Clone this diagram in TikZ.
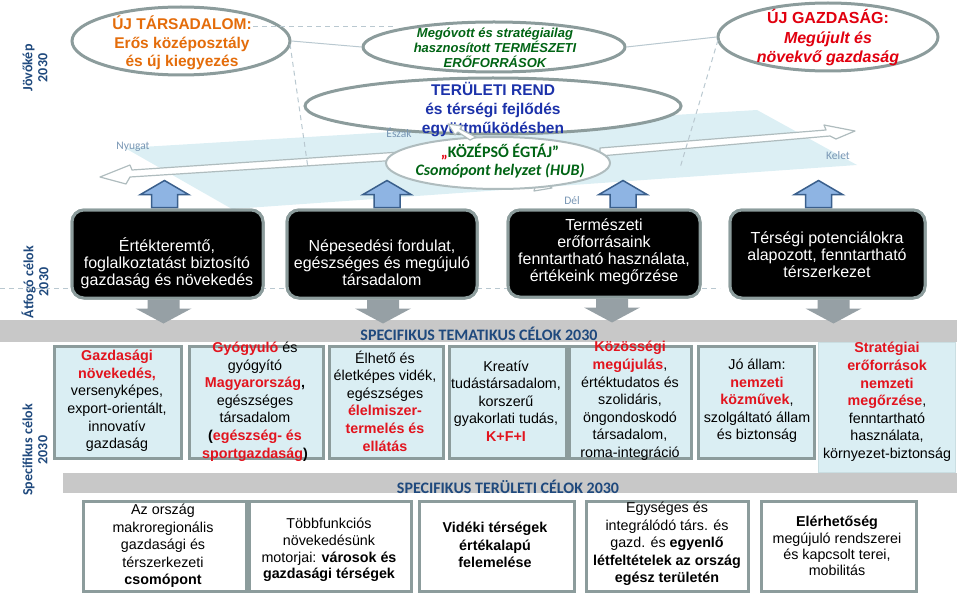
\documentclass[tikz,border=0pt]{standalone}
\usepackage{fontspec}
\setmainfont{Liberation Sans}
\newfontfamily\calfont{Carlito}
\usetikzlibrary{shapes.geometric,calc}
\definecolor{labblue}{RGB}{31,73,125}
\definecolor{dirgray}{RGB}{120,150,180}
\definecolor{ellgray}{RGB}{140,156,156}
\definecolor{hubgray}{RGB}{175,188,190}
\definecolor{planecol}{RGB}{220,239,244}
\definecolor{orangec}{RGB}{228,108,10}
\definecolor{greenc}{RGB}{0,100,20}
\definecolor{bluec}{RGB}{28,50,170}
\definecolor{redc}{RGB}{225,0,15}
\definecolor{boxred}{RGB}{226,20,30}
\definecolor{lbfill}{RGB}{218,238,243}
\definecolor{bandgray}{RGB}{200,200,200}
\definecolor{downfill}{RGB}{150,160,165}
\definecolor{upfill}{RGB}{142,180,227}
\definecolor{upline}{RGB}{58,95,140}
\definecolor{guide}{RGB}{185,200,208}
\newcommand\rb[1]{{\color{boxred}\bfseries #1}}
\begin{document}
\begin{tikzpicture}[x=1pt,y=-1pt,
  sidelab/.style={rotate=90,font=\calfont\bfseries\fontsize{14}{15}\selectfont,text=labblue,align=center},
  dirlab/.style={font=\calfont\fontsize{11.5}{13}\selectfont,text=dirgray},
  ell/.style={ellipse,draw=ellgray,line width=3pt,fill=white,inner sep=0pt},
  ellt/.style={align=center,inner sep=0pt},
  blackbox/.style={rectangle,rounded corners=12pt,fill=black,draw=ellgray,line width=3pt,inner sep=0pt},
  blackt/.style={align=center,text=white,font=\fontsize{16}{16.9}\selectfont},
  lbbox/.style={rectangle,fill=lbfill,draw=ellgray,line width=3pt,inner sep=0pt},
  lbt/.style={align=center,font=\fontsize{14.3}{17.6}\selectfont,inner sep=0pt},
  wbox/.style={rectangle,fill=white,draw=ellgray,line width=3pt,inner sep=0pt},
  band/.style={rectangle,fill=bandgray,inner sep=0pt},
  bandt/.style={font=\calfont\bfseries\fontsize{16}{17}\selectfont,text=labblue},
  guideline/.style={draw=guide,line width=1pt},
  guidedash/.style={draw=guide,line width=1pt,dash pattern=on 5pt off 4pt},
  dirarrow/.style={fill=white,draw=hubgray,line width=1.2pt,line join=round},
  uparr/.pic={\filldraw[fill=upfill,draw=upline,line width=1.5pt,line join=miter]
     (-13,0) -- (-13,-13) -- (-24,-13) -- (0,-27) -- (24,-13) -- (13,-13) -- (13,0) -- cycle;},
  downarr/.pic={\fill[downfill]
     (-16,0) -- (16,0) -- (16,9) -- (28,9) -- (0,24) -- (-28,9) -- (-16,9) -- cycle;}
]
\useasboundingbox (0,0) rectangle (960,596);

% ---------- side labels
\node[sidelab] (lj) at (35,68) {Jövőkép\\2030};
\node[sidelab] (la) at (35,282) {Átfogó célok\\2030};
\node[sidelab] (ls) at (35,450) {Specifikus célok\\2030};

% ---------- plane
\fill[planecol] (125,148) -- (757,110) -- (857,165) -- (232,209) -- cycle;

% ---------- guide lines
\coordinate (g1) at (253,27); \coordinate (g2) at (395,27);
\coordinate (g3) at (290,44); \coordinate (g4) at (308,168);
\coordinate (g5) at (718,40); \coordinate (g6) at (680,168);
\draw[guidedash] (0,288) -- (720,288);

% ---------- direction arrows
\draw[dirarrow] (400,152) -- (132,170) -- (130,165) -- (100,177) -- (126,184) -- (130,177) -- (400,160) -- cycle;
\draw[dirarrow] (600,148) -- (826,130) -- (824,125) -- (855,131) -- (836,139) -- (830,136) -- (600,156) -- cycle;
\draw[dirarrow] (520,176) -- (536,182) -- (538,178) -- (552,188) -- (534,191) -- (535,187) -- (518,181) -- cycle;

% ---------- ellipses
\node[ell,minimum width=218,minimum height=68] (e1) at (181,41) {};
\node[ell,minimum width=262,minimum height=50] (e2) at (494,47) {};
\node[ell,minimum width=376,minimum height=56] (e3) at (493,106) {};
\node[ell,minimum width=220,minimum height=68] (e5) at (828,37) {};
\draw[guidedash] (g1) -- (g2);
\draw[guidedash] (g3) -- (g4);
\draw[guidedash] (g5) -- (g6);
\draw[guideline] (e1.east) -- (e2.west);
\draw[guideline] (e2.east) -- (e5.west);
\node[ellipse,draw=hubgray,line width=2pt,fill=white,minimum width=224,minimum height=52,inner sep=0pt] (e4) at (498,163) {};

\node[ellt,text=orangec,font=\bfseries\fontsize{15.5}{18.5}\selectfont] (t1) at (182,43)
  {ÚJ TÁRSADALOM:\\Erős középosztály\\és új kiegyezés};
\node[ellt,text=greenc,font=\bfseries\itshape\fontsize{13}{15}\selectfont] (t2) at (495,48)
  {Megóvott és stratégiailag\\hasznosított TERMÉSZETI\\ERŐFORRÁSOK};
\node[ellt,text=bluec,font=\bfseries\fontsize{15.5}{19}\selectfont] (t3) at (493,110)
  {TERÜLETI REND\\és térségi fejlődés\\együttműködésben};
\draw[dirarrow] (470,140) -- (458,132) -- (455,135) -- (448,124) -- (462,126) -- (460,129) -- (476,137) -- cycle;
\node[ellt,text=greenc,font=\calfont\bfseries\fontsize{16}{18}\selectfont] (t4) at (500,161)
  {{\color{redc}„}KÖZÉPSŐ ÉGTÁJ”\\\itshape Csomópont helyzet (HUB)};
\node[ellt,text=redc,font=\bfseries\fontsize{16}{19.5}\selectfont] (t5) at (828,38)
  {ÚJ GAZDASÁG:\\\itshape Megújult és\\\itshape növekvő gazdaság};

% ---------- direction labels
\node[dirlab] (dn) at (133,147) {Nyugat};
\node[dirlab] (de) at (399,133) {Észak};
\node[dirlab] (dk) at (838,156) {Kelet};
\node[dirlab] (dd) at (572,201) {Dél};

% ---------- black boxes
\node[blackbox,minimum width=191,minimum height=88] (b1) at (167.5,254) {};
\node[blackbox,minimum width=190,minimum height=88] (b2) at (382,254) {};
\node[blackbox,minimum width=192,minimum height=87] (b3) at (604,253.5) {};
\node[blackbox,minimum width=195,minimum height=88] (b4) at (827.5,254) {};
\pic at ($(b1.north)+(-3,-1)$) {uparr};
\pic at ($(b2.north)+(5,-1)$) {uparr};
\pic at ($(b3.north)+(19,-1)$) {uparr};
\pic at ($(b4.north)+(-9,-1)$) {uparr};
\node[blackbox,minimum width=191,minimum height=88] at (b1) {};
\node[blackbox,minimum width=190,minimum height=88] at (b2) {};
\node[blackbox,minimum width=192,minimum height=87] at (b3) {};
\node[blackbox,minimum width=195,minimum height=88] at (b4) {};
\node[blackt] (bt1) at (167,263) {Értékteremtő,\\foglalkoztatást biztosító\\gazdaság és növekedés};
\node[blackt] (bt2) at (382,263) {Népesedési fordulat,\\egészséges és megújuló\\társadalom};
\node[blackt] (bt3) at (604,252) {Természeti\\erőforrásaink\\fenntartható használata,\\értékeink megőrzése};
\node[blackt] (bt4) at (827,255) {Térségi potenciálokra\\alapozott, fenntartható\\térszerkezet};

% ---------- thematic band
\node[band,minimum width=957,minimum height=22,anchor=north west] (band1) at (0,320) {};
\pic at ($(b1.south)+(-4,0)$) {downarr};
\pic at ($(b2.south)+(1,0)$) {downarr};
\pic at ($(b3.south)+(8,0)$) {downarr};
\pic at ($(b4.south)+(6,0)$) {downarr};
\node[bandt] (bandt1) at (479,334) {SPECIFIKUS TEMATIKUS CÉLOK 2030};

% ---------- territorial band
\node[band,minimum width=894,minimum height=20,anchor=north west] (band2) at (63,473) {};
\node[bandt] (bandt2) at (508,487) {SPECIFIKUS TERÜLETI CÉLOK 2030};

% ---------- light-blue boxes
\node[lbbox,minimum width=127,minimum height=112,anchor=north west] (s1) at (53,345) {};
\node[lbbox,minimum width=134,minimum height=112,anchor=north west] (s2) at (188,345) {};
\node[lbbox,minimum width=114,minimum height=112,anchor=north west] (s3) at (328,345) {};
\node[lbbox,minimum width=117,minimum height=112,anchor=north west] (s4) at (448,345) {};
\node[lbbox,minimum width=122,minimum height=112,anchor=north west] (s5) at (568,345) {};
\node[lbbox,minimum width=116,minimum height=112,anchor=north west] (s6) at (697,345) {};
\node[rectangle,fill=lbfill,draw=lbfill!80!ellgray,line width=0.8pt,minimum width=137,minimum height=130,anchor=north west,inner sep=0pt] (s7) at (818,342) {};

\node[lbt] (st1) at (117,401) {\rb{Gazdasági}\\\rb{növekedés,}\\versenyképes,\\export-orientált,\\innovatív\\gazdaság};
\node[lbt] (st2) at (255,401.5) {\rb{Gyógyuló} és\\gyógyító\\\rb{Magyarország}\textbf{,}\\egészséges\\társadalom\\\textbf{(}\rb{egészség- és}\\\rb{sportgazdaság}\textbf{)}};
\node[lbt] (st3) at (385,401) {Élhető és\\életképes vidék,\\egészséges\\\rb{élelmiszer-}\\\rb{termelés és}\\\rb{ellátás}};
\node[lbt] (st4) at (506,401) {Kreatív\\tudástársadalom,\\korszerű\\gyakorlati tudás,\\\rb{K+F+I}};
\node[lbt] (st5) at (630,401) {\rb{Közösségi}\\\rb{megújulás},\\értéktudatos és\\szolidáris,\\öngondoskodó\\társadalom,\\roma-integráció};
\node[lbt] (st6) at (757,401) {Jó állam:\\\rb{nemzeti}\\\rb{közművek},\\szolgáltató állam\\és biztonság};
\node[lbt] (st7) at (887,402) {\rb{Stratégiai}\\\rb{erőforrások}\\\rb{nemzeti}\\\rb{megőrzése},\\fenntartható\\használata,\\környezet-biztonság};

% ---------- white boxes
\node[wbox,minimum width=163,minimum height=90,anchor=north west] (w1) at (82,500) {};
\node[wbox,minimum width=162,minimum height=90,anchor=north west] (w2) at (248,500) {};
\node[wbox,minimum width=155,minimum height=90,anchor=north west] (w3) at (418,500) {};
\node[wbox,minimum width=162,minimum height=90,anchor=north west] (w4) at (585,500) {};
\node[wbox,minimum width=155,minimum height=90,anchor=north west] (w5) at (760,500) {};

\node[lbt] (wt1) at (163,546) {Az ország\\makroregionális\\gazdasági és\\térszerkezeti\\\textbf{csomópont}};
\node[lbt,font=\fontsize{14.3}{16.8}\selectfont] (wt2) at (329,550) {Többfunkciós\\növekedésünk\\motorjai: \textbf{városok és}\\\textbf{gazdasági térségek}};
\node[lbt,font=\bfseries\fontsize{14.3}{17.6}\selectfont] (wt3) at (495,545) {Vidéki térségek\\értékalapú\\felemelése};
\node[lbt] (wt4) at (667,544) {Egységes és\\integrálódó társ. és\\gazd. és \textbf{egyenlő}\\\textbf{létfeltételek az ország}\\\textbf{egész területén}};
\node[lbt,font=\fontsize{14.3}{16.2}\selectfont] (wt5) at (837,546) {\textbf{Elérhetőség}\\megújuló rendszerei\\és kapcsolt terei,\\mobilitás};
\end{tikzpicture}
\end{document}
